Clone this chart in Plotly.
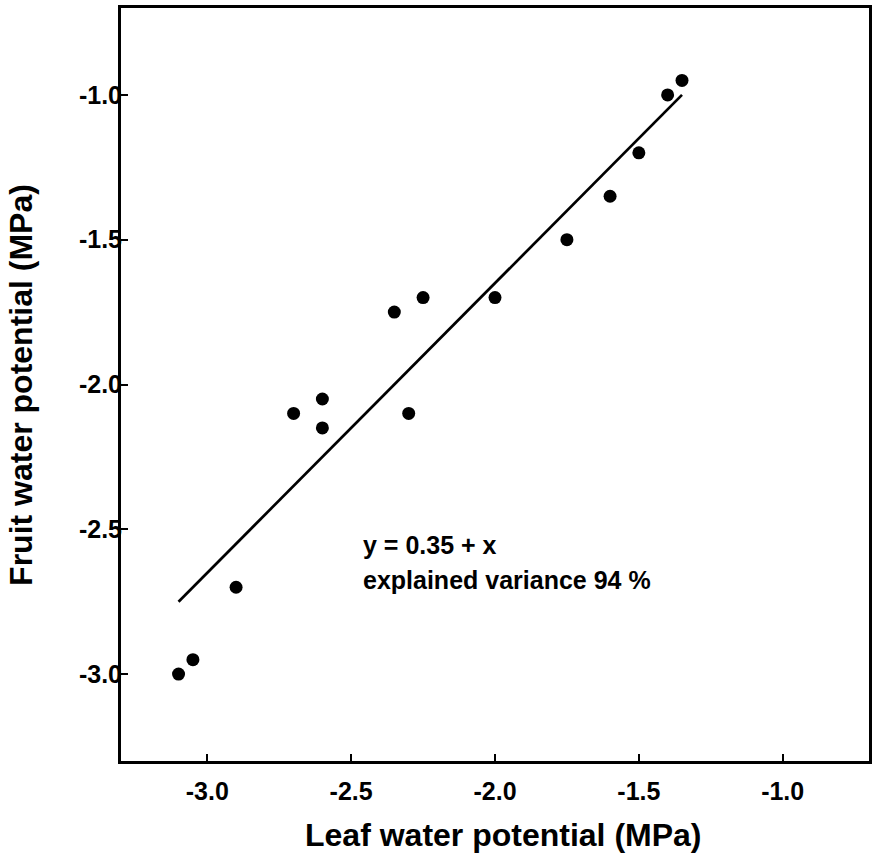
import plotly.graph_objects as go

# Data
leaf_wp = [-3.10, -3.05, -2.90, -2.70, -2.60, -2.60, -2.35, -2.25, -2.30, -2.00,
           -1.75, -1.60, -1.50, -1.40, -1.35]
fruit_wp = [-3.00, -2.95, -2.70, -2.10, -2.05, -2.15, -1.75, -1.70, -2.10, -1.70,
            -1.50, -1.35, -1.20, -1.00, -0.95]
intercept = 0.35
slope = 1.0
tick_vals = [-3.0, -2.5, -2.0, -1.5, -1.0]
tick_text = ["-3.0", "-2.5", "-2.0", "-1.5", "-1.0"]
x_title = "Leaf water potential (MPa)"
y_title = "Fruit water potential (MPa)"
eq_lines = ["y = 0.35 + x", "explained variance 94 %"]

FONT = "Liberation Sans"

x_fit = [min(leaf_wp), max(leaf_wp)]
y_fit = [intercept + slope * v for v in x_fit]

fig = go.Figure()
fig.add_trace(go.Scatter(x=x_fit, y=y_fit, mode="lines",
                         line=dict(color="black", width=2.7), showlegend=False,
                         hoverinfo="skip"))
fig.add_trace(go.Scatter(x=leaf_wp, y=fruit_wp, mode="markers",
                         marker=dict(color="black", size=13, line=dict(width=0)),
                         showlegend=False))

axis_common = dict(
    range=[-3.3, -0.7], tickvals=tick_vals, ticktext=tick_text,
    showline=True, linecolor="black", linewidth=3, mirror=True,
    ticks="inside", ticklen=7, tickwidth=2, tickcolor="black",
    showgrid=False, zeroline=False,
    tickfont=dict(family=FONT, size=25, color="black", weight="bold"),
)

title_font = dict(family=FONT, size=32, color="black", weight="bold")
text_font = dict(family=FONT, size=25, color="black", weight="bold")

fig.update_layout(
    width=877, height=867,
    margin=dict(l=121, r=5, t=5, b=106),
    paper_bgcolor="white", plot_bgcolor="white",
    xaxis=dict(**axis_common, ticklabelstandoff=6),
    yaxis=dict(**axis_common, ticklabelstandoff=-9),
    annotations=[
        dict(x=0.511, y=-0.098, xref="paper", yref="paper", text=x_title,
             showarrow=False, xanchor="center", yanchor="middle", font=title_font),
        dict(x=-0.1345, y=0.5, xref="paper", yref="paper", text=y_title,
             textangle=-90, showarrow=False, xanchor="center", yanchor="middle",
             font=title_font),
        dict(x=-2.465, y=-2.554, xref="x", yref="y", text=eq_lines[0],
             showarrow=False, xanchor="left", yanchor="middle", font=text_font),
        dict(x=-2.465, y=-2.675, xref="x", yref="y", text=eq_lines[1],
             showarrow=False, xanchor="left", yanchor="middle", font=text_font),
    ],
)

fig.write_html("out.html")
